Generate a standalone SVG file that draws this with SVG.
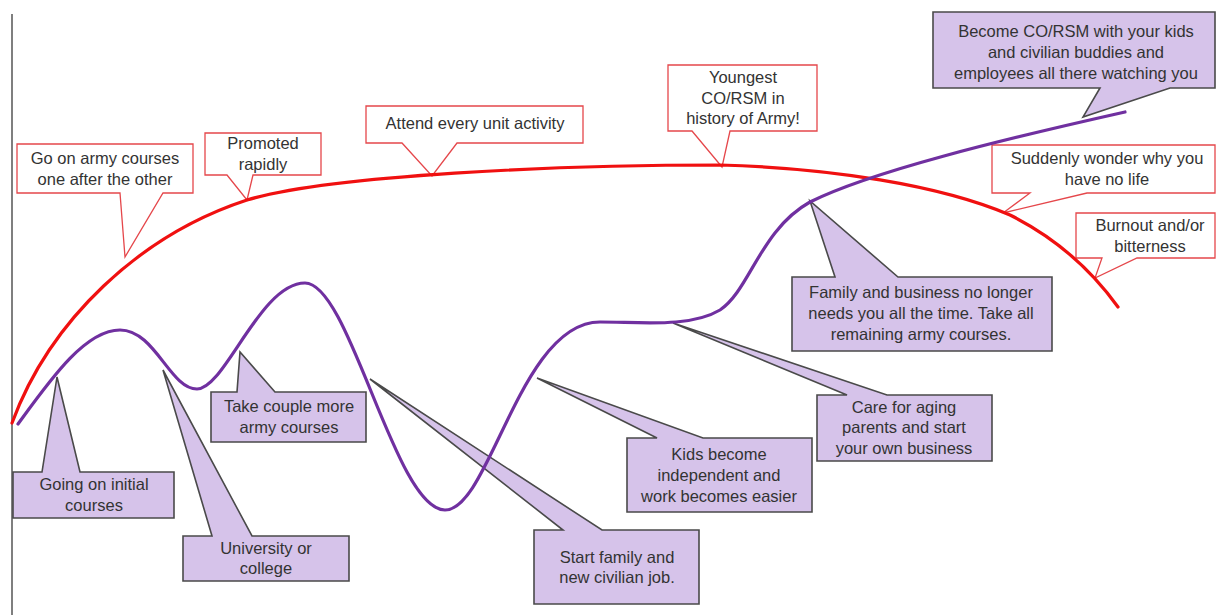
<svg xmlns="http://www.w3.org/2000/svg" width="1217" height="615" viewBox="0 0 1217 615">
<style>
.t{font-family:"Liberation Sans",Arial,sans-serif;font-size:16.5px;fill:#333;text-anchor:middle}
.rc{fill:#fff;stroke:#e5474b;stroke-width:1.3;stroke-linejoin:miter}
.pc{fill:#d6c3ea;stroke:#4a4a4a;stroke-width:1.6;stroke-linejoin:miter}
.red{fill:none;stroke:#f01010;stroke-width:3.2;stroke-linecap:round}
.pur{fill:none;stroke:#7030a0;stroke-width:3.2;stroke-linecap:round}
</style>
<rect width="1217" height="615" fill="#fff"/>
<line x1="12" y1="14" x2="12" y2="615" stroke="#555" stroke-width="1.5"/>

<g id="c-go-on-army"><path class="rc" d="M17,144 H193 V193 H163 L125,257 L120,193 H17 Z"/><text class="t" x="105" y="164">Go on army courses</text><text class="t" x="105" y="185">one after the other</text></g>
<g id="c-promoted"><path class="rc" d="M205,133 H321 V175 H253 L247,200 L227,175 H205 Z"/><text class="t" x="263" y="149">Promoted</text><text class="t" x="263" y="170">rapidly</text></g>
<g id="c-attend"><path class="rc" d="M366,106 H583 V143 H457 L432,176 L402,143 H366 Z"/><text class="t" x="475" y="129">Attend every unit activity</text></g>
<g id="c-youngest"><path class="rc" d="M668,65 H817 V131 H730 L722,167 L692,131 H668 Z"/><text class="t" x="743" y="83">Youngest</text><text class="t" x="743" y="104">CO/RSM in</text><text class="t" x="743" y="124">history of Army!</text></g>
<g id="c-suddenly"><path class="rc" d="M992,145 H1215 V193 H1087 L1003,213 L1030,193 H992 Z"/><text class="t" x="1107" y="164">Suddenly wonder why you</text><text class="t" x="1107" y="185">have no life</text></g>
<g id="c-burnout"><path class="rc" d="M1076,213 H1215 V258 H1137 L1095,278 L1102,258 H1076 Z"/><text class="t" x="1150" y="231">Burnout and/or</text><text class="t" x="1150" y="252">bitterness</text></g>

<g id="c-become"><path class="pc" d="M933,12 H1215 V88 H1170 L1083,117 L1100,88 H933 Z"/><text class="t" x="1076" y="37">Become CO/RSM with your kids</text><text class="t" x="1076" y="58">and civilian buddies and</text><text class="t" x="1076" y="79">employees all there watching you</text></g>
<g id="c-family-business"><path class="pc" d="M792,277 H835 L810,201 L898,277 H1052 V351 H792 Z"/><text class="t" x="921" y="298">Family and business no longer</text><text class="t" x="921" y="319">needs you all the time. Take all</text><text class="t" x="921" y="340">remaining army courses.</text></g>
<g id="c-care"><path class="pc" d="M817,395 H847 L673,323 L887,395 H992 V461 H817 Z"/><text class="t" x="904" y="413">Care for aging</text><text class="t" x="904" y="433">parents and start</text><text class="t" x="904" y="454">your own business</text></g>
<g id="c-kids"><path class="pc" d="M627,438 H657 L537,378 L703,438 H812 V512 H627 Z"/><text class="t" x="719" y="460">Kids become</text><text class="t" x="719" y="481">independent and</text><text class="t" x="719" y="502">work becomes easier</text></g>
<g id="c-start-family"><path class="pc" d="M534,530 H563 L370,379 L602,530 H699 V604 H534 Z"/><text class="t" x="617" y="563">Start family and</text><text class="t" x="617" y="583">new civilian job.</text></g>
<g id="c-take-couple"><path class="pc" d="M211,392 H237 L240,352 L275,392 H366 V442 H211 Z"/><text class="t" x="289" y="412">Take couple more</text><text class="t" x="289" y="433">army courses</text></g>
<g id="c-going"><path class="pc" d="M13,472 H42 L57,377 L80,472 H174 V518 H13 Z"/><text class="t" x="94" y="490">Going on initial</text><text class="t" x="94" y="511">courses</text></g>
<g id="c-university"><path class="pc" d="M183,536 H212 L163,370 L252,536 H349 V581 H183 Z"/><text class="t" x="266" y="554">University or</text><text class="t" x="266" y="574">college</text></g>

<g id="connectors">
<path class="red" d="M12,423 C50,320 140,235 247,200 C330,175 560,165 720,165 C830,168 940,185 1010,215 C1060,240 1095,275 1118,307"/>
<path class="pur" d="M18,424 C50,380 85,330 120,330 C155,330 170,389 197,389 C225,389 260,283 305,283 C350,283 395,510 445,510 C490,510 520,322 600,322 C640,322 690,328 720,310 C750,290 760,230 810,202 C870,172 1000,140 1125,112"/>
</g>
</svg>
